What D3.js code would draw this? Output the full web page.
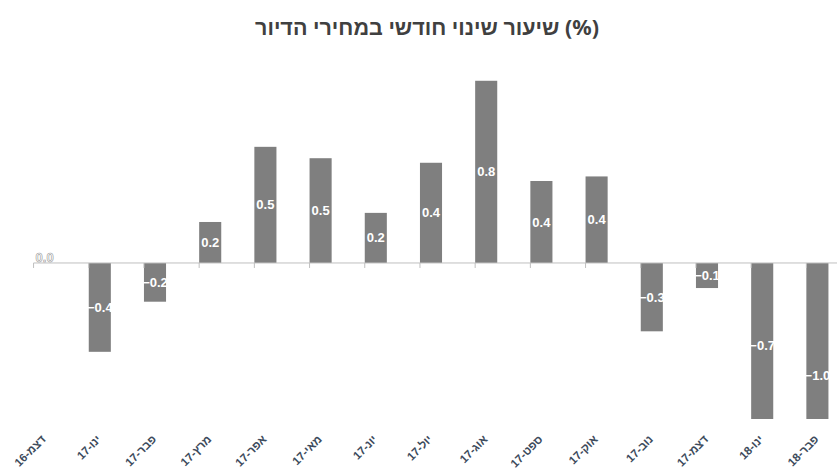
<!DOCTYPE html>
<html>
<head>
<meta charset="utf-8">
<script src="https://cdn.jsdelivr.net/npm/d3@7"></script>
<style>
    body { margin: 0; background: #fff; }
    svg { display: block; }
</style>
</head>
<body>
<div id="chart"></div>
<script>
    const months = ["דצמ-16", "ינו-17", "פבר-17", "מרץ-17", "אפר-17", "מאי-17", "יונ-17", "יול-17",
        "אוג-17", "ספט-17", "אוק-17", "נוב-17", "דצמ-17", "ינו-18", "פבר-18"];
    const change = [0.0, -0.39, -0.17, 0.18, 0.51, 0.46, 0.22, 0.44, 0.80, 0.36, 0.38, -0.30, -0.11, -0.72, -0.99];
    const title = "שיעור שינוי חודשי במחירי הדיור (%)";

    const width = 837, height = 471;
    const margin = {top: 58, right: -8, bottom: 52, left: 17};
    const yMin = -0.685, yMax = 0.9;

    const data = months.map((m, i) => ({month: m, value: change[i]}));

    const svg = d3.select("#chart").append("svg")
        .attr("width", width)
        .attr("height", height);

    const x = d3.scaleBand()
        .domain(months)
        .range([margin.left, width - margin.right])
        .paddingInner(0.6)
        .paddingOuter(0.3);

    const y = d3.scaleLinear()
        .domain([yMin, yMax])
        .range([height - margin.bottom, margin.top]);

    // title
    svg.append("text")
        .attr("x", 427)
        .attr("y", 35)
        .attr("text-anchor", "middle")
        .attr("font-family", "'Noto Sans', sans-serif")
        .attr("font-weight", "bold")
        .attr("font-size", 21.5)
        .attr("fill", "#404040")
        .text(title);

    svg.append("clipPath").attr("id", "plot")
        .append("rect")
        .attr("x", 0).attr("y", y(yMax))
        .attr("width", width).attr("height", y(yMin) - y(yMax));

    // bars
    svg.append("g")
        .attr("clip-path", "url(#plot)")
        .selectAll("rect")
        .data(data)
        .join("rect")
        .attr("x", d => x(d.month))
        .attr("width", x.bandwidth())
        .attr("y", d => y(Math.max(0, d.value)))
        .attr("height", d => Math.abs(y(d.value) - y(0)))
        .attr("fill", "#7f7f7f");

    // axis line at zero
    const step = x.step();
    const x0 = x(months[0]) - step * (x.paddingOuter() - x.paddingInner() / 2);
    const axis = svg.append("g");
    axis.append("line")
        .attr("x1", x0).attr("x2", width)
        .attr("y1", y(0)).attr("y2", y(0))
        .attr("stroke", "#bfbfbf");
    axis.selectAll(".tick")
        .data(d3.range(months.length + 1))
        .join("line")
        .attr("class", "tick")
        .attr("x1", i => x0 + i * step).attr("x2", i => x0 + i * step)
        .attr("y1", y(0)).attr("y2", y(0) + 5)
        .attr("stroke", "#bfbfbf");

    // value labels (zero label sits just above the axis)
    const fmt = d3.format(".1f");
    svg.append("g")
        .selectAll("text")
        .data(data)
        .join("text")
        .attr("x", d => x(d.month) + x.bandwidth() / 2)
        .attr("y", d => y(d.value / 2) - (d.value === 0 ? 6 : 0))
        .attr("dy", "0.35em")
        .attr("text-anchor", "middle")
        .attr("font-family", "'Liberation Sans', Arial, sans-serif")
        .attr("font-weight", "bold")
        .attr("font-size", 13)
        .attr("fill", "#fff")
        .attr("stroke", d => d.value === 0 ? "#999" : "none")
        .attr("stroke-width", 0.6)
        .text(d => fmt(d.value));

    // month labels
    svg.append("g")
        .selectAll("text")
        .data(data)
        .join("text")
        .attr("transform", d => `translate(${x(d.month) + x.bandwidth() / 2 + 2},${y(yMin) + 21}) rotate(-45)`)
        .attr("text-anchor", "end")
        .attr("font-family", "'Liberation Sans', Arial, sans-serif")
        .attr("font-weight", "bold")
        .attr("font-size", 11.5)
        .attr("fill", "#3d4b5c")
        .text(d => d.month);
</script>
</body>
</html>
